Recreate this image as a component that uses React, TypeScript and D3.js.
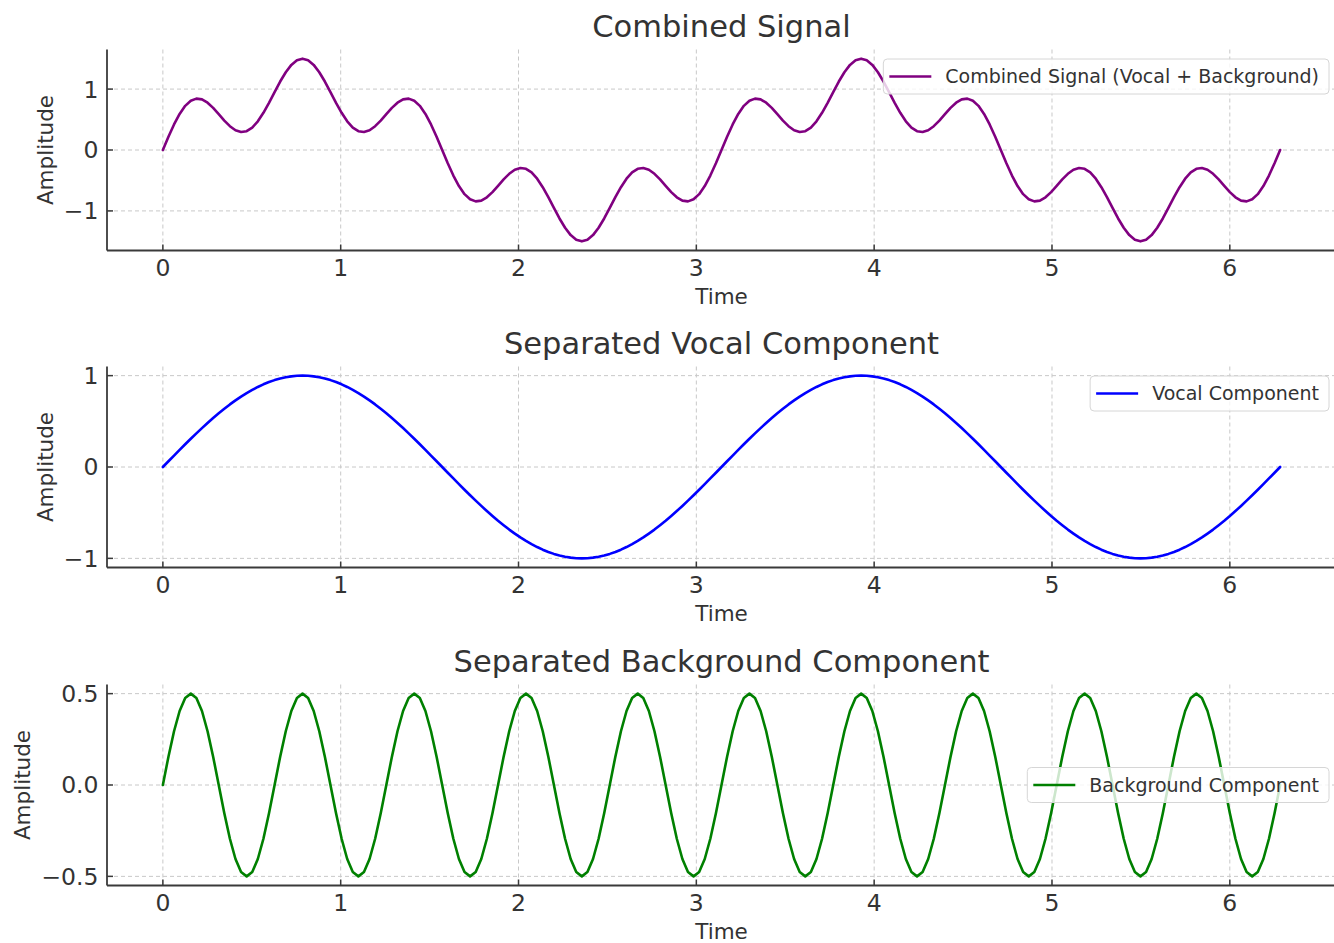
import React, { useEffect, useRef } from "react";
import * as d3 from "d3";

// Time axis runs from 0 to 2π; samples are evenly spaced across it.
const TIME_RANGE: [number, number] = [0, 6.283];
const X_TICKS = [0, 1, 2, 3, 4, 5, 6];

const COMBINED_TICKS = [-1, 0, 1];
const VOCAL_TICKS = [-1, 0, 1];
const BACKGROUND_TICKS = [-0.5, 0, 0.5];

const COMBINED = [
  0, 0.218, 0.419, 0.592, 0.725, 0.809, 0.844, 0.831, 0.776, 0.691,
  0.588, 0.482, 0.391, 0.324, 0.295, 0.309, 0.368, 0.471, 0.611, 0.775,
  0.951, 1.124, 1.276, 1.397, 1.474, 1.5, 1.474, 1.397, 1.276, 1.124,
  0.951, 0.775, 0.611, 0.471, 0.368, 0.309, 0.295, 0.324, 0.391, 0.482,
  0.588, 0.691, 0.776, 0.831, 0.844, 0.809, 0.725, 0.592, 0.419, 0.218,
  0, -0.218, -0.419, -0.592, -0.725, -0.809, -0.844, -0.831, -0.776, -0.691,
  -0.588, -0.482, -0.391, -0.324, -0.295, -0.309, -0.368, -0.471, -0.611, -0.775,
  -0.951, -1.124, -1.276, -1.397, -1.474, -1.5, -1.474, -1.397, -1.276, -1.124,
  -0.951, -0.775, -0.611, -0.471, -0.368, -0.309, -0.295, -0.324, -0.391, -0.482,
  -0.588, -0.691, -0.776, -0.831, -0.844, -0.809, -0.725, -0.592, -0.419, -0.218,
  0, 0.218, 0.419, 0.592, 0.725, 0.809, 0.844, 0.831, 0.776, 0.691,
  0.588, 0.482, 0.391, 0.324, 0.295, 0.309, 0.368, 0.471, 0.611, 0.775,
  0.951, 1.124, 1.276, 1.397, 1.474, 1.5, 1.474, 1.397, 1.276, 1.124,
  0.951, 0.775, 0.611, 0.471, 0.368, 0.309, 0.295, 0.324, 0.391, 0.482,
  0.588, 0.691, 0.776, 0.831, 0.844, 0.809, 0.725, 0.592, 0.419, 0.218,
  0, -0.218, -0.419, -0.592, -0.725, -0.809, -0.844, -0.831, -0.776, -0.691,
  -0.588, -0.482, -0.391, -0.324, -0.295, -0.309, -0.368, -0.471, -0.611, -0.775,
  -0.951, -1.124, -1.276, -1.397, -1.474, -1.5, -1.474, -1.397, -1.276, -1.124,
  -0.951, -0.775, -0.611, -0.471, -0.368, -0.309, -0.295, -0.324, -0.391, -0.482,
  -0.588, -0.691, -0.776, -0.831, -0.844, -0.809, -0.725, -0.592, -0.419, -0.218,
  0,
];

const VOCAL = [
  0, 0.063, 0.125, 0.187, 0.249, 0.309, 0.368, 0.426, 0.482, 0.536,
  0.588, 0.637, 0.685, 0.729, 0.771, 0.809, 0.844, 0.876, 0.905, 0.93,
  0.951, 0.969, 0.982, 0.992, 0.998, 1.0, 0.998, 0.992, 0.982, 0.969,
  0.951, 0.93, 0.905, 0.876, 0.844, 0.809, 0.771, 0.729, 0.685, 0.637,
  0.588, 0.536, 0.482, 0.426, 0.368, 0.309, 0.249, 0.187, 0.125, 0.063,
  0, -0.063, -0.125, -0.187, -0.249, -0.309, -0.368, -0.426, -0.482, -0.536,
  -0.588, -0.637, -0.685, -0.729, -0.771, -0.809, -0.844, -0.876, -0.905, -0.93,
  -0.951, -0.969, -0.982, -0.992, -0.998, -1.0, -0.998, -0.992, -0.982, -0.969,
  -0.951, -0.93, -0.905, -0.876, -0.844, -0.809, -0.771, -0.729, -0.685, -0.637,
  -0.588, -0.536, -0.482, -0.426, -0.368, -0.309, -0.249, -0.187, -0.125, -0.063,
  0, 0.063, 0.125, 0.187, 0.249, 0.309, 0.368, 0.426, 0.482, 0.536,
  0.588, 0.637, 0.685, 0.729, 0.771, 0.809, 0.844, 0.876, 0.905, 0.93,
  0.951, 0.969, 0.982, 0.992, 0.998, 1.0, 0.998, 0.992, 0.982, 0.969,
  0.951, 0.93, 0.905, 0.876, 0.844, 0.809, 0.771, 0.729, 0.685, 0.637,
  0.588, 0.536, 0.482, 0.426, 0.368, 0.309, 0.249, 0.187, 0.125, 0.063,
  0, -0.063, -0.125, -0.187, -0.249, -0.309, -0.368, -0.426, -0.482, -0.536,
  -0.588, -0.637, -0.685, -0.729, -0.771, -0.809, -0.844, -0.876, -0.905, -0.93,
  -0.951, -0.969, -0.982, -0.992, -0.998, -1.0, -0.998, -0.992, -0.982, -0.969,
  -0.951, -0.93, -0.905, -0.876, -0.844, -0.809, -0.771, -0.729, -0.685, -0.637,
  -0.588, -0.536, -0.482, -0.426, -0.368, -0.309, -0.249, -0.187, -0.125, -0.063,
  0,
];

const BACKGROUND = [
  0, 0.155, 0.294, 0.405, 0.476, 0.5, 0.476, 0.405, 0.294, 0.155,
  0, -0.155, -0.294, -0.405, -0.476, -0.5, -0.476, -0.405, -0.294, -0.155,
  0, 0.155, 0.294, 0.405, 0.476, 0.5, 0.476, 0.405, 0.294, 0.155,
  0, -0.155, -0.294, -0.405, -0.476, -0.5, -0.476, -0.405, -0.294, -0.155,
  0, 0.155, 0.294, 0.405, 0.476, 0.5, 0.476, 0.405, 0.294, 0.155,
  0, -0.155, -0.294, -0.405, -0.476, -0.5, -0.476, -0.405, -0.294, -0.155,
  0, 0.155, 0.294, 0.405, 0.476, 0.5, 0.476, 0.405, 0.294, 0.155,
  0, -0.155, -0.294, -0.405, -0.476, -0.5, -0.476, -0.405, -0.294, -0.155,
  0, 0.155, 0.294, 0.405, 0.476, 0.5, 0.476, 0.405, 0.294, 0.155,
  0, -0.155, -0.294, -0.405, -0.476, -0.5, -0.476, -0.405, -0.294, -0.155,
  0, 0.155, 0.294, 0.405, 0.476, 0.5, 0.476, 0.405, 0.294, 0.155,
  0, -0.155, -0.294, -0.405, -0.476, -0.5, -0.476, -0.405, -0.294, -0.155,
  0, 0.155, 0.294, 0.405, 0.476, 0.5, 0.476, 0.405, 0.294, 0.155,
  0, -0.155, -0.294, -0.405, -0.476, -0.5, -0.476, -0.405, -0.294, -0.155,
  0, 0.155, 0.294, 0.405, 0.476, 0.5, 0.476, 0.405, 0.294, 0.155,
  0, -0.155, -0.294, -0.405, -0.476, -0.5, -0.476, -0.405, -0.294, -0.155,
  0, 0.155, 0.294, 0.405, 0.476, 0.5, 0.476, 0.405, 0.294, 0.155,
  0, -0.155, -0.294, -0.405, -0.476, -0.5, -0.476, -0.405, -0.294, -0.155,
  0, 0.155, 0.294, 0.405, 0.476, 0.5, 0.476, 0.405, 0.294, 0.155,
  0, -0.155, -0.294, -0.405, -0.476, -0.5, -0.476, -0.405, -0.294, -0.155,
  0,
];

const PANELS = [
  {
    title: "Combined Signal",
    legend: "Combined Signal (Vocal + Background)",
    color: "#800080",
    values: COMBINED,
    yTicks: COMBINED_TICKS,
    tickFormat: (v: number) => d3.format("d")(v).replace("-", "\u2212"),
    legendPos: "top",
  },
  {
    title: "Separated Vocal Component",
    legend: "Vocal Component",
    color: "#0000ff",
    values: VOCAL,
    yTicks: VOCAL_TICKS,
    tickFormat: (v: number) => d3.format("d")(v).replace("-", "\u2212"),
    legendPos: "top",
  },
  {
    title: "Separated Background Component",
    legend: "Background Component",
    color: "#008000",
    values: BACKGROUND,
    yTicks: BACKGROUND_TICKS,
    tickFormat: (v: number) => d3.format(".1f")(v).replace("-", "\u2212"),
    legendPos: "middle",
  },
];

// Layout
const W = 1334;
const H = 943;
const PLOT_LEFT = 107;
const PLOT_RIGHT = 1336;
const PLOT_H = 201;
const PANEL_TOPS = [49.5, 366.5, 684.5];
const FONT = "DejaVu Sans";
const TEXT = "#333333";
const SPINE = "#3a3a3a";
const GRID = "#c8c8c8";
const TICK_FS = 23.5;
const LABEL_FS = 21.5;
const TITLE_FS = 30.5;
const LEGEND_FS = 19;

// Pad a [min, max] extent by 5% on each side, as matplotlib autoscaling does.
function padded([lo, hi]: [number, number]): [number, number] {
  const m = (hi - lo) * 0.05;
  return [lo - m, hi + m];
}

export default function App() {
  const ref = useRef<SVGSVGElement>(null);

  useEffect(() => {
    const svg = d3.select(ref.current!);
    svg.selectAll("*").remove();
    svg.append("rect").attr("width", W).attr("height", H).attr("fill", "#fff");

    const x = d3.scaleLinear().domain(padded(TIME_RANGE)).range([PLOT_LEFT, PLOT_RIGHT]);

    PANELS.forEach((p, k) => {
      const top = PANEL_TOPS[k];
      const bottom = top + PLOT_H;
      const ext = d3.extent(p.values) as [number, number];
      const y = d3.scaleLinear().domain(padded(ext)).range([bottom, top]);
      const idxToTime = d3.scaleLinear().domain([0, p.values.length - 1]).range(TIME_RANGE);

      const g = svg.append("g").attr("font-family", FONT);

      // grid
      g.selectAll(".gx")
        .data(X_TICKS)
        .join("line")
        .attr("x1", (d) => x(d))
        .attr("x2", (d) => x(d))
        .attr("y1", top)
        .attr("y2", bottom)
        .attr("stroke", GRID)
        .attr("stroke-width", 1)
        .attr("stroke-dasharray", "4,3");
      g.selectAll(".gy")
        .data(p.yTicks)
        .join("line")
        .attr("x1", PLOT_LEFT)
        .attr("x2", PLOT_RIGHT)
        .attr("y1", (d) => y(d))
        .attr("y2", (d) => y(d))
        .attr("stroke", GRID)
        .attr("stroke-width", 1)
        .attr("stroke-dasharray", "4,3");

      // signal line
      const line = d3
        .line<number>()
        .x((_, i) => x(idxToTime(i)))
        .y((d) => y(d));
      g.append("path")
        .attr("d", line(p.values))
        .attr("fill", "none")
        .attr("stroke", p.color)
        .attr("stroke-width", 2.6)
        .attr("stroke-linejoin", "round")
        .attr("stroke-linecap", "round");

      // spines
      g.append("line")
        .attr("x1", PLOT_LEFT)
        .attr("x2", PLOT_LEFT)
        .attr("y1", top)
        .attr("y2", bottom)
        .attr("stroke", SPINE)
        .attr("stroke-width", 1.8);
      g.append("line")
        .attr("x1", PLOT_LEFT)
        .attr("x2", PLOT_RIGHT)
        .attr("y1", bottom)
        .attr("y2", bottom)
        .attr("stroke", SPINE)
        .attr("stroke-width", 1.8);

      // inward ticks
      g.selectAll(".tx")
        .data(X_TICKS)
        .join("line")
        .attr("x1", (d) => x(d))
        .attr("x2", (d) => x(d))
        .attr("y1", bottom)
        .attr("y2", bottom - 6)
        .attr("stroke", SPINE)
        .attr("stroke-width", 1.5);
      g.selectAll(".ty")
        .data(p.yTicks)
        .join("line")
        .attr("x1", PLOT_LEFT)
        .attr("x2", PLOT_LEFT + 6)
        .attr("y1", (d) => y(d))
        .attr("y2", (d) => y(d))
        .attr("stroke", SPINE)
        .attr("stroke-width", 1.5);

      // tick labels
      g.selectAll(".lx")
        .data(X_TICKS)
        .join("text")
        .attr("x", (d) => x(d))
        .attr("y", bottom + 25)
        .attr("text-anchor", "middle")
        .attr("font-size", TICK_FS)
        .attr("fill", TEXT)
        .text((d) => String(d));
      const yl = g
        .selectAll(".ly")
        .data(p.yTicks)
        .join("text")
        .attr("x", PLOT_LEFT - 8.5)
        .attr("y", (d) => y(d) + TICK_FS * 0.36)
        .attr("text-anchor", "end")
        .attr("font-size", TICK_FS)
        .attr("fill", TEXT)
        .text((d) => p.tickFormat(d));
      let maxW = 0;
      yl.each(function () {
        maxW = Math.max(maxW, (this as SVGTextElement).getComputedTextLength());
      });

      // axis labels
      g.append("text")
        .attr("x", (PLOT_LEFT + PLOT_RIGHT) / 2)
        .attr("y", bottom + 53)
        .attr("text-anchor", "middle")
        .attr("font-size", LABEL_FS)
        .attr("fill", TEXT)
        .text("Time");
      const labelX = PLOT_LEFT - 8.5 - maxW - 18.5;
      g.append("text")
        .attr("transform", `translate(${labelX},${(top + bottom) / 2}) rotate(-90)`)
        .attr("text-anchor", "middle")
        .attr("dominant-baseline", "central")
        .attr("font-size", LABEL_FS)
        .attr("fill", TEXT)
        .text("Amplitude");

      // title
      g.append("text")
        .attr("x", (PLOT_LEFT + PLOT_RIGHT) / 2)
        .attr("y", top - 12.5)
        .attr("text-anchor", "middle")
        .attr("font-size", TITLE_FS)
        .attr("fill", TEXT)
        .text(p.title);

      // legend
      const lg = g.append("g");
      const box = lg.append("rect");
      const handle = lg.append("line");
      const label = lg
        .append("text")
        .attr("font-size", LEGEND_FS)
        .attr("fill", TEXT)
        .text(p.legend);
      const tw = (label.node() as SVGTextElement).getComputedTextLength();
      const boxH = 35;
      const padL = 6;
      const handleLen = 42;
      const gapT = 14;
      const padR = 10;
      const boxW = padL + handleLen + gapT + tw + padR;
      const boxRight = 1329;
      const boxLeft = boxRight - boxW;
      const boxTop = p.legendPos === "top" ? top + 9.5 : (top + bottom) / 2 - boxH / 2;
      const cy = boxTop + boxH / 2;
      box
        .attr("x", boxLeft)
        .attr("y", boxTop)
        .attr("width", boxW)
        .attr("height", boxH)
        .attr("rx", 4)
        .attr("fill", "#fff")
        .attr("fill-opacity", 0.8)
        .attr("stroke", "#d6d6d6")
        .attr("stroke-width", 1);
      handle
        .attr("x1", boxLeft + padL)
        .attr("x2", boxLeft + padL + handleLen)
        .attr("y1", cy)
        .attr("y2", cy)
        .attr("stroke", p.color)
        .attr("stroke-width", 2.6);
      label.attr("x", boxLeft + padL + handleLen + gapT).attr("y", cy + LEGEND_FS * 0.36);
    });
  }, []);

  return (
    <svg
      ref={ref}
      width={W}
      height={H}
      style={{ position: "absolute", left: 0, top: 0, display: "block" }}
    />
  );
}
